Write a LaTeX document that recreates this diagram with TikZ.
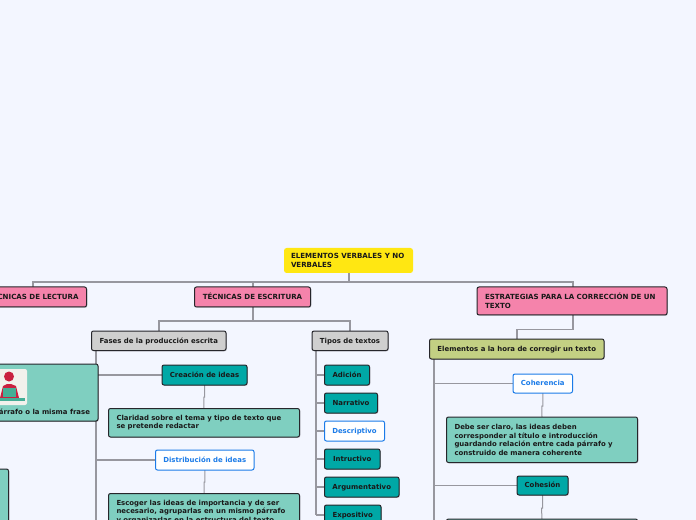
\documentclass[tikz,border=0pt]{standalone}
\usepackage{fontspec}
\setmainfont{DejaVu Sans}
\usetikzlibrary{backgrounds,shadows}
\definecolor{pagebg}{HTML}{F3F6FF}
\definecolor{linegray}{HTML}{97979F}
\definecolor{edgedark}{HTML}{26262B}
\definecolor{rootyellow}{HTML}{FFE712}
\definecolor{pinkfill}{HTML}{F583AB}
\definecolor{grayfill}{HTML}{CFCFCF}
\definecolor{olivefill}{HTML}{C3D083}
\definecolor{tealdark}{HTML}{00A8A6}
\definecolor{teallight}{HTML}{7FCFC0}
\definecolor{bluetext}{HTML}{1B7BE8}
\definecolor{iconbg}{HTML}{F2F1EC}
\definecolor{iconred}{HTML}{C9203F}
\definecolor{iconteal}{HTML}{45AE96}
\newcommand{\bx}[7]{%
  \pgfmathsetmacro{\cxx}{(#3+#5)/2}\pgfmathsetmacro{\cyy}{(#4+#6)/2}%
  \pgfmathsetmacro{\wdd}{(#5-#3)*0.75}\pgfmathsetmacro{\htt}{(#6-#4)*0.75}%
  \pgfmathsetmacro{\txw}{(#5-#3)*0.75-12}%
  \node[#2,minimum width=\wdd pt,minimum height=\htt pt] (#1) at (\cxx,\cyy) {#7};}
\tikzset{
  x=0.75pt,y=-0.75pt,
  every node/.style={font=\bfseries\fontsize{5.2}{6.4}\selectfont,inner sep=0pt,outer sep=0pt,text=black!90},
  caps/.style={font=\bfseries\fontsize{5.3}{6.4}\selectfont},
  oneline/.style={text height=3.5pt,text depth=0pt},
  basebox/.style={rectangle,rounded corners=1.5pt,draw=edgedark,line width=0.75pt,oneline,
    general shadow={shadow xshift=0.6pt,shadow yshift=-0.6pt,fill=black,opacity=0.18}},
  pinkbox/.style={basebox,fill=pinkfill,caps},
  graybox/.style={basebox,fill=grayfill},
  olivebox/.style={basebox,fill=olivefill},
  tealbox/.style={basebox,fill=tealdark},
  lightbox/.style={basebox,fill=teallight},
  whitebox/.style={rectangle,rounded corners=1.5pt,draw=bluetext,line width=0.75pt,fill=white,text=bluetext,oneline},
  rootbox/.style={rectangle,rounded corners=2pt,fill=rootyellow,caps},
  para/.style={align=left,text width=\txw pt,text height={},text depth={}},
  conn/.style={draw=linegray,line width=1pt},
  thin conn/.style={draw=linegray,line width=0.75pt},
}
\begin{document}
\begin{tikzpicture}
\useasboundingbox (0,0) rectangle (696,520);
\clip (0,0) rectangle (696,520);
\begin{scope}[on background layer]
\fill[pagebg] (0,0) rectangle (696,520);
\end{scope}

\bx{root}{rootbox,align=left}{284}{248}{413}{273}{}
\node[caps,anchor=west,align=left] (roottext) at (291,260.5) {ELEMENTOS VERBALES Y NO\\VERBALES};
\bx{lectura}{pinkbox}{-20}{287}{86.5}{307}{TÉCNICAS DE LECTURA}
\bx{escritura}{pinkbox}{194.5}{287}{310.5}{307}{TÉCNICAS DE ESCRITURA}
\bx{estrategias}{pinkbox,para}{477}{287}{667}{315}{ESTRATEGIAS PARA LA CORRECCIÓN DE UN\\TEXTO}
\bx{fases}{graybox}{91.5}{331}{226}{350.5}{Fases de la producción escrita}
\bx{tipos}{graybox}{312}{331}{388}{350.5}{Tipos de textos}
\bx{elementos}{olivebox}{429.5}{339}{604}{359}{Elementos a la hora de corregir un texto}
\bx{leftbox}{lightbox}{-100}{364}{98}{421}{}
\node[anchor=base east] (lefttext) at (90,414) {párrafo o la misma frase};
\bx{lowbox}{lightbox}{-100}{469}{8.5}{560}{}
\bx{creacion}{tealbox}{162}{365}{247}{385}{Creación de ideas}
\bx{claridad}{lightbox,para}{108.5}{408.5}{299.5}{437}{Claridad sobre el tema y tipo de texto que\\se pretende redactar}
\bx{distribucion}{whitebox}{155.5}{450}{254}{470}{Distribución de ideas}
\bx{escoger}{lightbox}{108.5}{493.5}{299.5}{560}{}
\node[anchor=north west,align=left] (escogertext) at (116.5,500) {Escoger las ideas de importancia y de ser\\necesario, agruparlas en un mismo párrafo\\y organizarlas en la estructura del texto};
\bx{adicion}{tealbox}{324.5}{365}{369.5}{385}{Adición}
\bx{narrativo}{tealbox}{324.5}{393}{377.5}{413}{Narrativo}
\bx{descriptivo}{whitebox}{324.5}{421}{384.5}{441}{Descriptivo}
\bx{intructivo}{tealbox}{324.5}{449}{380}{469}{Intructivo}
\bx{argumentativo}{tealbox}{324.5}{477}{399}{497}{Argumentativo}
\bx{expositivo}{tealbox}{324.5}{505}{381}{525}{Expositivo}
\bx{coherencia}{whitebox}{513}{374}{572.5}{393}{Coherencia}
\bx{debe}{lightbox,para}{446.5}{417}{637.5}{462.5}{Debe ser claro, las ideas deben\\corresponder al título e introducción\\guardando relación entre cada párrafo y\\construido de manera coherente}
\bx{cohesion}{tealbox}{517}{476}{568}{495}{Cohesión}
\bx{nextbox}{lightbox}{446.5}{519}{637.5}{560}{}

% icon
\fill[iconbg,rounded corners=1.5pt] (-4,369) rectangle (27,405);
\fill[iconred] (9,376.5) circle (5);
\fill[iconred] (0,398) -- (3,386) -- (7,384) -- (11,384) -- (16,386) -- (19,398) -- cycle;
\fill[iconteal] (3,388) rectangle (16,397);
\fill[iconteal] (-2,398) rectangle (25,400.5);

\begin{scope}[on background layer]
\coordinate (j0) at (349,282);
\coordinate (jL) at (33,282);
\coordinate (jE) at (253,282);
\coordinate (jS) at (573,282);
\draw[conn] (root.south -| j0) -- (j0);
\draw[conn] (lectura.north -| jL) -- (jL) -- (jS) -- (estrategias.north -| jS);
\draw[conn] (jE) -- (escritura.north -| jE);
\coordinate (f1) at (253,321);
\draw[conn] (escritura.south -| f1) -- (f1);
\coordinate (f2) at (159,321);
\coordinate (f3) at (350,321);
\draw[conn] (fases.north -| f2) -- (f2) -- (f3) -- (tipos.north -| f3);
\coordinate (g1) at (573,329.5);
\coordinate (g2) at (517,329.5);
\draw[conn] (estrategias.south -| g1) -- (g1) -- (g2) -- (elementos.north -| g2);
% Fases trunk
\coordinate (t1) at (96,520);
\draw[conn] (fases.south -| t1) -- (t1);
\draw[conn] (t1 |- creacion.west) -- (creacion.west);
\draw[conn] (t1 |- distribucion.west) -- (distribucion.west);
\draw[thin conn] (creacion.south) -- ++(0,12) -- ++(-0.7,0) -- (claridad.north);
\draw[thin conn] (distribucion.south) -- ++(0,12) -- ++(-0.7,0) -- (escoger.north);
% Tipos trunk
\coordinate (t2) at (316,515);
\draw[conn] (tipos.south -| t2) -- (t2);
\foreach \n in {adicion,narrativo,descriptivo,intructivo,argumentativo,expositivo}
  \draw[conn] (t2 |- \n.west) -- (\n.west);
% Elementos trunk
\coordinate (t3) at (434,520);
\draw[conn] (elementos.south -| t3) -- (t3);
\draw[thin conn] (t3 |- coherencia.west) -- (coherencia.west);
\draw[thin conn] (t3 |- cohesion.west) -- (cohesion.west);
\coordinate (c1) at (542,417);
\coordinate (c2) at (542,519);
\draw[thin conn] (coherencia.south) -- ++(0,13) -- ++(-1,0) -- (debe.north -| c1);
\draw[thin conn] (cohesion.south) -- ++(0,13) -- ++(-1,0) -- (nextbox.north -| c2);
\end{scope}
\end{tikzpicture}
\end{document}
